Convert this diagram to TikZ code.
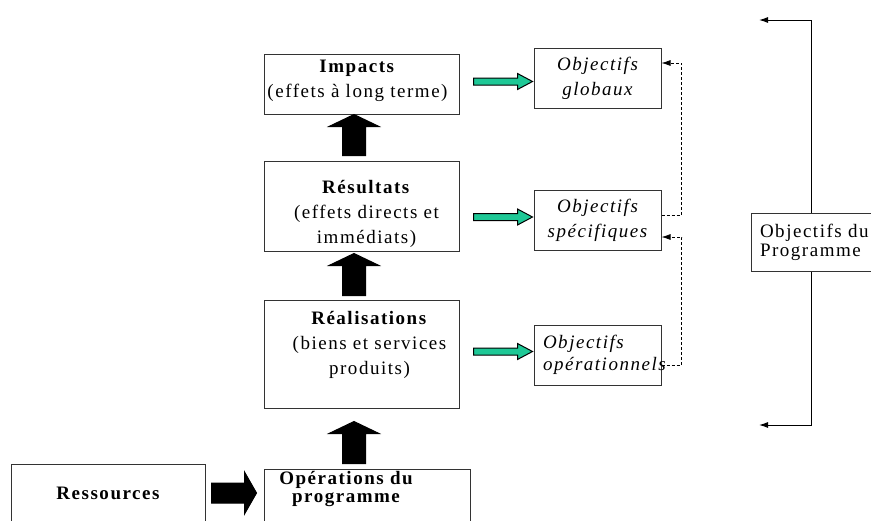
\documentclass[tikz,border=0pt]{standalone}
\usepackage{fontspec}
\setmainfont{Liberation Serif}[LetterSpace=8]
\usetikzlibrary{calc,arrows.meta}

\definecolor{objgreen}{RGB}{30,200,150}

\tikzset{
  fat/.style n args={3}{to path={
    let \p1=(\tikztostart), \p2=(\tikztotarget),
        \n1={veclen(\x2-\x1,\y2-\y1)}, \n2={atan2(\y2-\y1,\x2-\x1)} in
    {[shift={(\p1)}, rotate=\n2]
      (0pt,-#1) -- (\n1-#3,-#1) -- (\n1-#3,-#2) -- (\n1+0pt,0pt)
      -- (\n1-#3,#2) -- (\n1-#3,#1) -- (0pt,#1) -- cycle}}},
}

\begin{document}
\begin{tikzpicture}[x=0.5pt, y=-0.5pt,
    font=\fontsize{9.5}{12.5}\selectfont,
    box/.style={draw=black!80, line width=0.5pt, inner sep=0pt},
    stage/.style={box, minimum width=97.5pt},
    txt/.style={anchor=north, align=center, inner sep=0pt},
    goal/.style={box, minimum width=63.5pt, minimum height=30pt, text width=54.5pt,
      inner xsep=4.5pt, align=center, font=\fontsize{9.5}{12.5}\selectfont\itshape},
    blk/.style={draw=black, fill=black, line width=0.5pt},
    grn/.style={draw=black, fill=objgreen, line width=0.5pt},
    flow/.style={line width=0.5pt, -{Latex[length=4.5pt,width=3pt]}},
    feedback/.style={flow, dashed, dash pattern=on 1.5pt off 1pt, line width=0.4pt}]
  \clip (0,0) rectangle (871,520);

  % chain of results
  \node[stage, minimum height=30pt] (imp) at (361.5,84) {};
  \node[stage, minimum height=45pt] (res) at (361.5,206) {};
  \node[stage, minimum height=54pt] (rea) at (361.5,354) {};
  \node[box, minimum width=103pt, minimum height=50pt] (ope) at (367,519) {};
  \node[box, minimum width=97pt, minimum height=50pt] (rsc) at (108,514) {};

  \node[txt] (imptxt) at ([xshift=-2pt,yshift=-3pt]imp.north)
    {\textbf{Impacts}\\(effets à long terme)};
  \node[txt] (restxt) at ([xshift=2.5pt,yshift=-9.5pt]res.north)
    {\textbf{Résultats}\\(effets directs et\\immédiats)};
  \node[txt] (reatxt) at ([xshift=4pt,yshift=-5.5pt]rea.north)
    {\textbf{Réalisations}\\(biens et services\\produits)};
  \node[txt, font=\fontsize{9.5}{9}\selectfont\bfseries] (opetxt)
    at ([xshift=-10.5pt,yshift=-1.3pt]ope.north) {Opérations du\\programme};
  \node[inner sep=0pt, font=\fontsize{9.5}{12.5}\selectfont\bfseries] (rsctxt)
    at ([yshift=10.5pt]rsc.center) {Ressources};

  % objectives
  \node[goal] (glo) at (597.5,78) {Objectifs\\globaux};
  \node[goal] (spe) at (597.5,220) {Objectifs\\spécifiques};
  \node[goal, align=left, font=\fontsize{9.5}{11}\selectfont\itshape] (opo)
    at (597.5,355) {Objectifs\\\mbox{opérationnels}};

  \node[box, minimum width=60pt, minimum height=29pt, text width=51pt,
    inner xsep=4.5pt, align=left, font=\fontsize{9.5}{9.5}\selectfont] (prog)
    at (811,242) {\mbox{Objectifs du}\\Programme};
  \coordinate (ptop) at (759,20);
  \coordinate (pbot) at (759,425);

  % block arrows
  \draw[blk] ([xshift=-3.75pt,yshift=2.5pt]res.north)
    to[fat={5.75pt}{12.5pt}{6pt}] ([xshift=-3.75pt]imp.south);
  \draw[blk] ([xshift=-3.75pt,yshift=2pt]rea.north)
    to[fat={5.75pt}{12.5pt}{6pt}] ([xshift=-3.75pt,yshift=-1pt]res.south);
  \draw[blk] ([xshift=-6.5pt,yshift=2.5pt]ope.north)
    to[fat={5.75pt}{12.5pt}{6pt}] ([xshift=-3.75pt,yshift=-6.5pt]rea.south);
  \draw[blk] ([xshift=3pt,yshift=10.5pt]rsc.east)
    to[fat={5pt}{10.5pt}{6pt}] ([xshift=-3.5pt,yshift=13pt]ope.west);

  \draw[grn] ([xshift=7pt,yshift=1.25pt]imp.east)
    to[fat={1.75pt}{4pt}{7.5pt}] ([xshift=-0.5pt,yshift=-1.75pt]glo.west);
  \draw[grn] ([xshift=7pt,yshift=-5.5pt]res.east)
    to[fat={1.75pt}{4pt}{7.5pt}] ([xshift=-0.5pt,yshift=1.5pt]spe.west);
  \draw[grn] ([xshift=7pt,yshift=1.25pt]rea.east)
    to[fat={1.75pt}{4pt}{7.5pt}] ([xshift=-0.5pt,yshift=1.75pt]opo.west);

  % links between objectives
  \draw[feedback] ([yshift=2.5pt]spe.east) -- ++(20,0) |- ([yshift=7.5pt]glo.east);
  \draw[feedback] ([yshift=-5pt]opo.east) -- ++(20,0) |- ([yshift=-8.5pt]spe.east);

  \draw[flow] (prog.north) |- (ptop);
  \draw[flow] (prog.south) |- (pbot);
\end{tikzpicture}
\end{document}
